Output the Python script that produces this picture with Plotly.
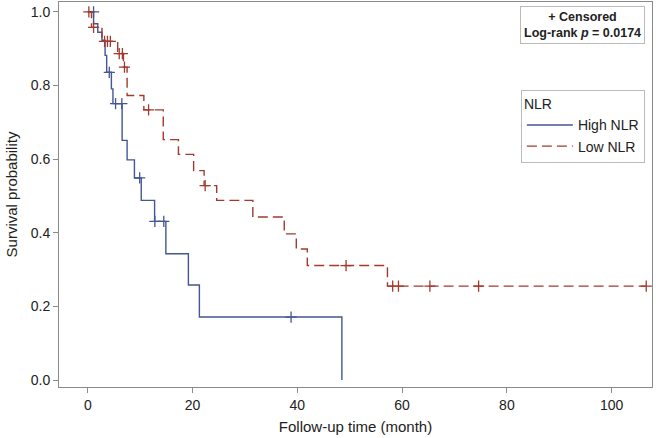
import plotly.graph_objects as go

# High NLR: event times and survival levels (step function)
high_t = [0, 1.1, 1.9, 2.7, 3.3, 3.6, 4.5, 4.8, 6.55, 7.5, 8.9, 10.2, 12.75, 14.9, 19.2, 21.3, 48.5]
high_s = [1.0, 0.968, 0.945, 0.923, 0.882, 0.836, 0.791, 0.751, 0.651, 0.598, 0.549, 0.488, 0.431, 0.343, 0.258, 0.171, 0.0]
high_cens_t = [1.1, 4.1, 5.3, 6.5, 9.9, 12.8, 14.5, 38.8]
high_cens_s = [1.0, 0.836, 0.751, 0.751, 0.549, 0.431, 0.431, 0.171]

# Low NLR
low_t = [0, 0.7, 2.7, 5.7, 6.8, 7.5, 10.7, 14.4, 17.3, 20.2, 22.2, 24.6, 31.5, 37.5, 39.8, 41.9, 57.2, 106.6]
low_s = [1.0, 0.958, 0.92, 0.887, 0.85, 0.773, 0.734, 0.653, 0.613, 0.569, 0.528, 0.488, 0.443, 0.397, 0.356, 0.311, 0.255, 0.255]
low_cens_t = [0.2, 1.1, 3.2, 3.75, 4.3, 6.0, 6.6, 7.0, 11.6, 22.4, 49.3, 58.2, 59.3, 65.3, 74.6, 106.6]
low_cens_s = [1.0, 0.958, 0.92, 0.92, 0.92, 0.887, 0.887, 0.85, 0.734, 0.528, 0.311, 0.255, 0.255, 0.255, 0.255, 0.255]

x_ticks = [0, 20, 40, 60, 80, 100]
y_ticks = [0.0, 0.2, 0.4, 0.6, 0.8, 1.0]

BLUE = "#445694"
RED = "#A23A2E"
FONT = "Liberation Sans, Arial, sans-serif"

fig = go.Figure()
fig.add_trace(go.Scatter(x=high_t, y=high_s, mode="lines", line_shape="hv",
                         line=dict(color=BLUE, width=1.4), name="High NLR"))
fig.add_trace(go.Scatter(x=low_t, y=low_s, mode="lines", line_shape="hv",
                         line=dict(color=RED, width=1.4, dash="10px,5px"), name="Low NLR"))
fig.add_trace(go.Scatter(x=high_cens_t, y=high_cens_s, mode="markers", showlegend=False,
                         marker=dict(symbol="cross-thin", size=8, line=dict(color=BLUE, width=1.3))))
fig.add_trace(go.Scatter(x=low_cens_t, y=low_cens_s, mode="markers", showlegend=False,
                         marker=dict(symbol="cross-thin", size=8, line=dict(color=RED, width=1.3))))

axis_common = dict(showgrid=False, zeroline=False, showline=True, mirror=True,
                   linecolor="#8a8a8a", linewidth=1, ticks="outside", ticklen=5,
                   tickcolor="#8a8a8a", tickfont=dict(size=14, color="#222"))

fig.update_layout(
    width=656, height=438,
    margin=dict(l=59, r=4, t=2, b=51),
    paper_bgcolor="white", plot_bgcolor="white",
    font=dict(family=FONT, color="#222"),
    xaxis=dict(range=[-5.5, 107.7], tickvals=x_ticks,
               title=dict(text="Follow-up time (month)", font=dict(size=15), standoff=9),
               **axis_common),
    yaxis=dict(range=[-0.019, 1.027], tickvals=y_ticks, tickformat=".1f",
               title=dict(text="Survival probability", font=dict(size=15), standoff=9),
               **axis_common),
    legend=dict(x=0.988, y=0.771, xanchor="right", yanchor="top",
                title=dict(text="NLR", font=dict(size=14)),
                font=dict(size=14), bordercolor="#bbbbbb", borderwidth=1,
                bgcolor="white", tracegroupgap=0, itemwidth=46),
    annotations=[dict(
        xref="paper", yref="paper", x=0.988, y=0.99, xanchor="right", yanchor="top",
        text="<b>+ Censored</b><br><b>Log-rank <i>p</i> = 0.0174</b>",
        showarrow=False, align="center", font=dict(size=12.5, color="#222"),
        bordercolor="#bbbbbb", borderwidth=1, borderpad=3, bgcolor="white")],
)

fig.write_html("out.html", config={"displayModeBar": False},
               post_script="document.body.style.margin='0';document.body.style.padding='0';")
